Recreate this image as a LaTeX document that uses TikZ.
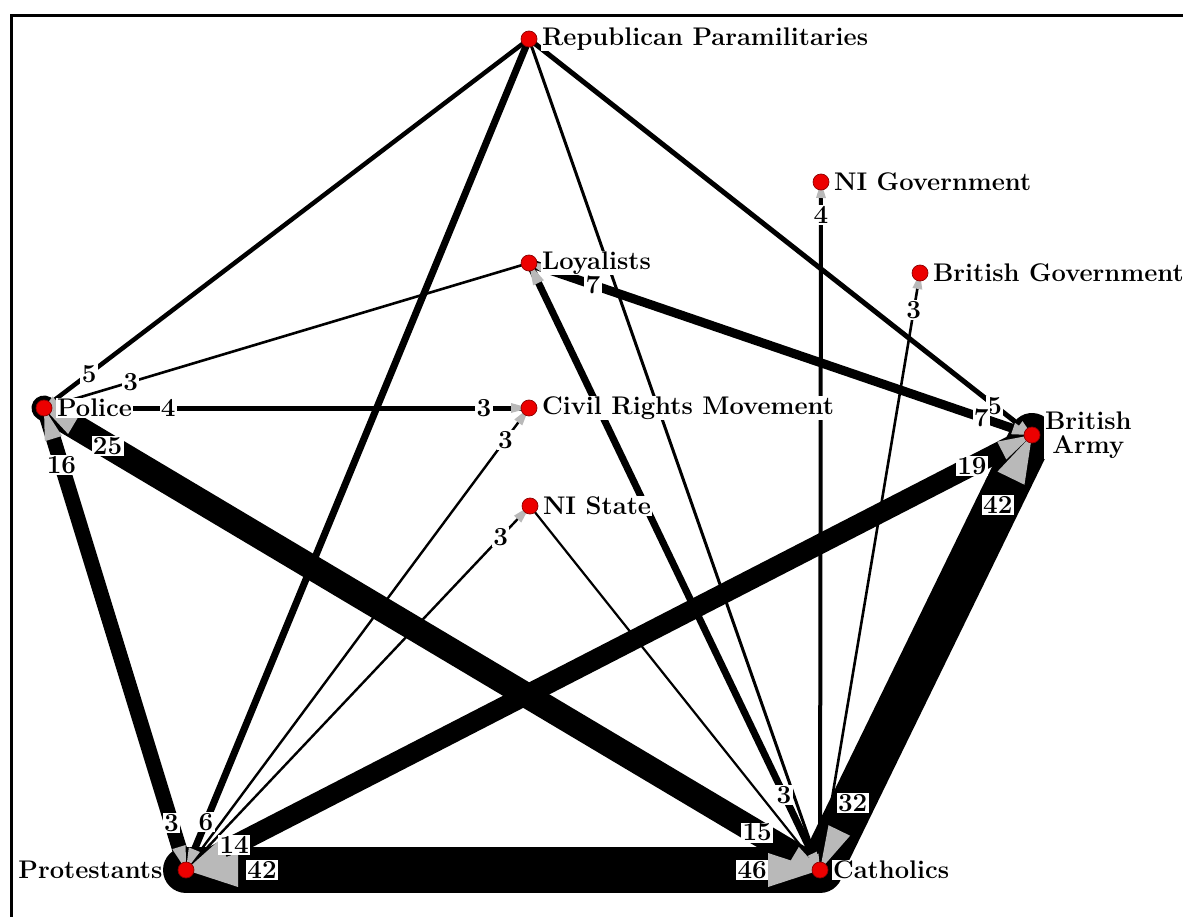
\documentclass[tikz,border=0pt]{standalone}
\usetikzlibrary{calc}
\pgfdeclarelayer{edges}
\pgfdeclarelayer{tips}
\pgfdeclarelayer{counts}
\pgfsetlayers{edges,tips,counts,main}
\definecolor{tipgrey}{RGB}{185,185,185}
\definecolor{dotred}{RGB}{236,0,0}

\tikzset{
  actor/.style={circle, fill=dotred, draw=red!55!black, line width=0.7pt,
    minimum size=16pt, inner sep=0pt},
  actorname/.style={fill=white, inner sep=1pt, label distance=3.5pt,
    font=\fontsize{25.5}{24}\selectfont\bfseries},
  bond/.style={draw=black, line cap=round},
  count/.style={fill=white, inner sep=1.3pt, font=\fontsize{26}{26}\selectfont\bfseries},
  tipfill/.style={fill=tipgrey},
}

% black band between two actors, width in px
\newcommand\bondline[3]{\draw[bond, line width=#3pt] (#1.center) -- (#2.center);}
% grey arrow head pointing at #1 along the band from #2: length #3, half width #4
\newcommand\tiptri[4]{%
  \coordinate (tb) at ($(#1.center)!#3pt!(#2.center)$);
  \fill[tipfill] (#1.center) -- ($(tb)!#4pt!90:(#1.center)$)
    -- ($(tb)!#4pt!-90:(#1.center)$) -- cycle;}
% count placed on the band from #1 to #2 at position #3
\newcommand\countlabel[5]{\path (#1.center) -- (#2.center) node[count, pos=#3] (#4) {#5};}

\begin{document}
\begin{tikzpicture}[x=1pt, y=-1pt]
\useasboundingbox (0,0) rectangle (1183,917);

% frame
\draw[line width=3pt] (11,917) -- (11,16) -- (1183,16);

% actors
\node[actor, label={[actorname, name=rp-l]right:Republican Paramilitaries}] (rp) at (529,39) {};
\node[actor, label={[actorname, name=nigov-l]right:NI Government}] (nigov) at (821,182) {};
\node[actor, label={[actorname, name=loy-l]right:Loyalists}] (loy) at (529,263) {};
\node[actor, label={[actorname, name=bg-l]right:British Government}] (bg) at (920,273) {};
\node[actor, label={[actorname, name=police-l]right:Police}] (police) at (44,408) {};
\node[actor, label={[actorname, name=crm-l]right:Civil Rights Movement}] (crm) at (529,408) {};
\node[actor, label={[actorname, align=center, name=ba-l]right:British\\Army}] (ba) at (1032,435) {};
\node[actor, label={[actorname, name=nis-l]right:NI State}] (nis) at (530,506) {};
\node[actor, label={[actorname, label distance=14pt, name=prot-l]left:Protestants}] (prot) at (186,870) {};
\node[actor, label={[actorname, name=cath-l]right:Catholics}] (cath) at (820,870) {};

\begin{pgfonlayer}{edges}
\bondline{prot}{cath}{46}
\bondline{cath}{ba}{44}
\bondline{police}{cath}{25}
\bondline{prot}{ba}{20}
\bondline{police}{prot}{15}
\bondline{loy}{ba}{9}
\bondline{rp}{prot}{7}
\bondline{loy}{cath}{7}
\bondline{rp}{ba}{5}
\bondline{rp}{police}{4.5}
\bondline{police}{crm}{5}
\bondline{nigov}{cath}{4}
\bondline{rp}{cath}{3}
\bondline{loy}{police}{2.6}
\bondline{bg}{cath}{2.6}
\bondline{crm}{prot}{2.4}
\bondline{nis}{prot}{2.4}
\bondline{nis}{cath}{2.2}
\end{pgfonlayer}

\begin{pgfonlayer}{tips}
\tiptri{prot}{cath}{52}{17}
\tiptri{cath}{prot}{52}{17}
\tiptri{ba}{cath}{48}{15}
\tiptri{cath}{ba}{44}{12}
\tiptri{police}{cath}{34}{10}
\tiptri{cath}{police}{30}{9}
\tiptri{ba}{prot}{34}{10}
\tiptri{prot}{ba}{42}{11}
\tiptri{police}{prot}{32}{9}
\tiptri{prot}{police}{24}{7}
\tiptri{prot}{rp}{22}{6}
\tiptri{ba}{loy}{20}{6}
\tiptri{loy}{ba}{16}{5}
\tiptri{loy}{cath}{22}{6}
\tiptri{cath}{loy}{18}{5}
\tiptri{ba}{rp}{16}{5}
\tiptri{police}{rp}{14}{4}
\tiptri{police}{loy}{14}{4}
\tiptri{police}{crm}{14}{4}
\tiptri{crm}{police}{18}{5}
\tiptri{crm}{prot}{18}{5}
\tiptri{nis}{prot}{18}{5}
\tiptri{nigov}{cath}{16}{5}
\tiptri{bg}{cath}{16}{5}
\tiptri{cath}{rp}{16}{4}
\tiptri{cath}{nis}{16}{4}
\end{pgfonlayer}

\begin{pgfonlayer}{counts}
\countlabel{rp}{police}{0.907}{c-rp-police}{5}
\countlabel{loy}{police}{0.821}{c-loy-police}{3}
\countlabel{police}{crm}{0.256}{c-crm-police}{4}
\countlabel{police}{crm}{0.907}{c-police-crm}{3}
\countlabel{police}{cath}{0.082}{c-cath-police}{25}
\countlabel{police}{cath}{0.919}{c-police-cath}{15}
\countlabel{police}{prot}{0.123}{c-prot-police}{16}
\countlabel{police}{prot}{0.898}{c-police-prot}{3}
\countlabel{rp}{prot}{0.942}{c-rp-prot}{6}
\countlabel{rp}{ba}{0.926}{c-rp-ba}{5}
\countlabel{loy}{ba}{0.127}{c-ba-loy}{7}
\countlabel{loy}{ba}{0.899}{c-loy-ba}{7}
\countlabel{loy}{cath}{0.876}{c-loy-cath}{3}
\countlabel{nigov}{cath}{0.048}{c-cath-nigov}{4}
\countlabel{bg}{cath}{0.062}{c-cath-bg}{3}
\countlabel{crm}{prot}{0.069}{c-prot-crm}{3}
\countlabel{nis}{prot}{0.085}{c-prot-nis}{3}
\countlabel{prot}{ba}{0.057}{c-ba-prot}{14}
\countlabel{prot}{ba}{0.929}{c-prot-ba}{19}
\countlabel{cath}{ba}{0.154}{c-ba-cath}{32}
\countlabel{cath}{ba}{0.839}{c-cath-ba}{42}
\countlabel{prot}{cath}{0.12}{c-cath-prot}{42}
\countlabel{prot}{cath}{0.893}{c-prot-cath}{46}
\end{pgfonlayer}
\end{tikzpicture}
\end{document}
